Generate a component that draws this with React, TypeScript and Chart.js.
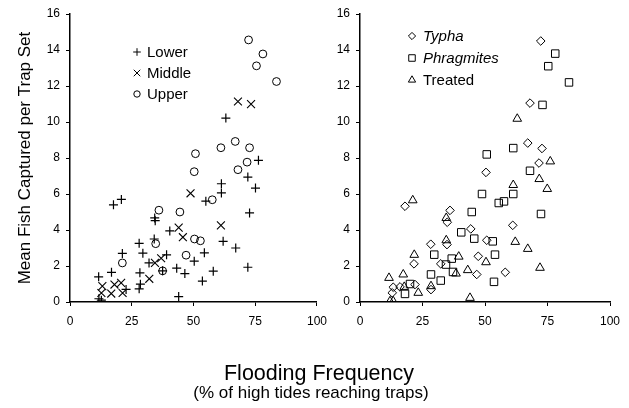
import React, { useEffect, useRef } from 'react';
import { Chart, registerables } from 'chart.js';

Chart.register(...registerables);

const FONT = "'Liberation Sans', Arial, Helvetica, sans-serif";

// ---- Data (x = flooding frequency %, y = mean fish captured per trap set) ----
const lower: [number, number][] = [
  [11.6, 1.4], [11.7, 0.18], [12.7, 0.1], [16.8, 1.65], [17.6, 5.4], [20.8, 5.7],
  [21.2, 2.7], [22.7, 0.7], [28, 3.26], [28.3, 1.62], [28.5, 0.99], [28, 0.73],
  [29.5, 2.71], [32, 2.17], [34.1, 3.5], [34.3, 4.67], [34.5, 4.52], [37.5, 1.73],
  [39.1, 2.62], [40.4, 3.95], [43.2, 1.88], [44, 0.3], [46.5, 1.58], [50.3, 2.27],
  [53.6, 1.16], [54.4, 2.73], [55, 5.6], [58, 1.71], [61.3, 6.57], [61.3, 6.06],
  [62, 3.37], [63.1, 10.22], [67.1, 3.0], [72, 6.94], [72, 1.93], [72.7, 4.95],
  [75.1, 6.33], [76.3, 7.87],
];
const middle: [number, number][] = [
  [12.7, 0.5], [13.1, 0.88], [16.7, 0.47], [18, 0.97], [20.7, 1.06], [21.3, 0.5],
  [32.1, 1.29], [34.4, 2.17], [36.9, 2.43], [44, 4.13], [45.7, 3.6], [48.8, 6.04],
  [61.1, 4.26], [68, 11.14], [73.3, 10.99],
];
const upper: [number, number][] = [
  [21.2, 2.17], [34.7, 3.24], [36, 5.1], [37.5, 1.73], [44.5, 5.0], [47, 2.6],
  [50.3, 7.24], [50.8, 8.24], [50.4, 3.5], [52.8, 3.4], [57.6, 5.68], [61.1, 8.57],
  [66.9, 8.92], [68, 7.35], [71.7, 7.77], [72.7, 8.57], [72.3, 14.56], [75.5, 13.12],
  [78.1, 13.78], [83.6, 12.25],
];
const typha: [number, number][] = [
  [12.9, 0.51], [13.3, 0.82], [16, 0.84], [18, 5.32], [22, 0.97], [21.6, 2.12],
  [28.3, 3.21], [28.4, 0.69], [32.3, 2.12], [34.8, 3.19], [34.9, 4.43], [36, 5.09],
  [44.3, 4.06], [46.7, 1.53], [47.3, 2.54], [50.4, 7.2], [50.7, 3.43], [58.1, 1.65],
  [61.1, 4.26], [67.1, 8.83], [68, 11.05], [71.6, 7.72], [72.3, 14.5], [72.8, 8.53],
];
const phragmites: [number, number][] = [
  [18, 0.45], [20, 1.0], [28.4, 1.53], [29.7, 2.63], [32.3, 1.19], [34.4, 2.08],
  [36.7, 2.41], [37.2, 1.67], [40.5, 3.87], [44.7, 5.0], [45.7, 3.52], [48.8, 6.0],
  [50.7, 8.2], [53.1, 3.37], [53.6, 1.12], [54, 2.63], [55.5, 5.5], [57.6, 5.59],
  [61.3, 8.55], [61.3, 6.0], [68, 7.29], [72.4, 4.89], [73, 10.95], [75.3, 13.1],
  [78.1, 13.8], [83.6, 12.2],
];
const treated: [number, number][] = [
  [11.6, 1.34], [12, 0.04], [13.3, 0.04], [17.3, 1.53], [17.7, 0.84], [21.1, 5.65],
  [21.7, 2.62], [23.3, 0.51], [28.4, 0.88], [34.5, 4.67], [34.5, 3.43], [38.4, 1.58],
  [39.5, 2.52], [43.1, 1.77], [44, 0.23], [50.4, 2.21], [61.3, 6.5], [62.1, 3.34],
  [62.9, 10.18], [67.1, 2.95], [71.7, 6.83], [72, 1.9], [74.9, 6.28], [76.1, 7.81],
];

const xMin = 0, xMax = 100, xStep = 25;
const yMin = 0, yMax = 16, yStep = 2;

const yTitle = 'Mean Fish Captured per Trap Set';
const xTitle = 'Flooding Frequency';
const xSubtitle = '(% of high tides reaching traps)';

const leftLegend = [
  { style: 'cross', label: 'Lower', italic: false, r: 3.8 },
  { style: 'crossRot', label: 'Middle', italic: false, r: 4.6 },
  { style: 'circle', label: 'Upper', italic: false, r: 3.2 },
];
const rightLegend = [
  { style: 'rectRot', label: 'Typha', italic: true, r: 3.6 },
  { style: 'rect', label: 'Phragmites', italic: true, r: 4.6 },
  { style: 'triangle', label: 'Treated', italic: false, r: 4.2 },
];

function toPts(a: [number, number][]) {
  return a.map(([x, y]) => ({ x, y }));
}

function drawMarker(ctx: CanvasRenderingContext2D, style: string, x: number, y: number, r: number) {
  ctx.beginPath();
  if (style === 'cross') {
    ctx.moveTo(x - r, y); ctx.lineTo(x + r, y);
    ctx.moveTo(x, y - r); ctx.lineTo(x, y + r);
  } else if (style === 'crossRot') {
    const d = r * Math.SQRT1_2;
    ctx.moveTo(x - d, y - d); ctx.lineTo(x + d, y + d);
    ctx.moveTo(x - d, y + d); ctx.lineTo(x + d, y - d);
  } else if (style === 'circle') {
    ctx.arc(x, y, r, 0, Math.PI * 2);
  } else if (style === 'rectRot') {
    ctx.moveTo(x, y - r); ctx.lineTo(x + r, y); ctx.lineTo(x, y + r); ctx.lineTo(x - r, y); ctx.closePath();
  } else if (style === 'rect') {
    const s = r * Math.SQRT1_2;
    ctx.rect(x - s, y - s, 2 * s, 2 * s);
  } else if (style === 'triangle') {
    const a = (2 * Math.PI) / 3;
    ctx.moveTo(x, y - r);
    ctx.lineTo(x + Math.sin(a) * r, y - Math.cos(a) * r);
    ctx.lineTo(x + Math.sin(2 * a) * r, y - Math.cos(2 * a) * r);
    ctx.closePath();
  }
  ctx.stroke();
}

function legendPlugin(items: typeof leftLegend, x: number, y: number, lineH: number, gap: number) {
  return {
    id: 'panelLegend',
    afterDraw(chart: any) {
      const ctx: CanvasRenderingContext2D = chart.ctx;
      ctx.save();
      ctx.strokeStyle = '#000';
      ctx.fillStyle = '#000';
      ctx.lineWidth = 1;
      ctx.textBaseline = 'middle';
      ctx.textAlign = 'left';
      items.forEach((it, i) => {
        const yy = y + i * lineH;
        drawMarker(ctx, it.style, x, yy, it.r);
        ctx.font = `${it.italic ? 'italic ' : ''}15px ${FONT}`;
        ctx.fillText(it.label, x + gap, yy + 0.5);
      });
      ctx.restore();
    },
  };
}

function makeScales(yWidth: number, showTitle: boolean) {
  const grid = { display: true, drawOnChartArea: false, drawTicks: true, tickLength: 4, color: '#000', tickWidth: 1 };
  const border = { display: true, color: '#000', width: 1.5 };
  return {
    x: {
      type: 'linear',
      min: xMin, max: xMax,
      ticks: { stepSize: xStep, color: '#000', font: { family: FONT, size: 12 }, padding: 8, maxRotation: 0 },
      grid, border,
      afterFit: (s: any) => { s.height = 106; },
    },
    y: {
      type: 'linear',
      min: yMin, max: yMax,
      ticks: { stepSize: yStep, color: '#000', font: { family: FONT, size: 12 }, padding: 6 },
      grid, border,
      title: {
        display: showTitle,
        text: yTitle,
        color: '#000',
        font: { family: FONT, size: 17 },
        padding: { top: 15, bottom: 0 },
      },
      afterFit: (s: any) => { s.width = yWidth; },
    },
  };
}

function ds(label: string, data: [number, number][], style: string, r: number, bw = 1) {
  return {
    label,
    data: toPts(data),
    pointStyle: style,
    pointRadius: r,
    pointHoverRadius: r,
    borderColor: '#000',
    backgroundColor: 'rgba(0,0,0,0)',
    pointBorderWidth: bw,
    borderWidth: bw,
    showLine: false,
  };
}

export default function App() {
  const leftRef = useRef<HTMLCanvasElement>(null);
  const rightRef = useRef<HTMLCanvasElement>(null);

  useEffect(() => {
    const common = {
      responsive: false,
      animation: false,
      events: [],
      plugins: { legend: { display: false }, tooltip: { enabled: false } },
    };
    const c1 = new Chart(leftRef.current!, {
      type: 'scatter',
      data: {
        datasets: [
          ds('Lower', lower, 'cross', 4.5, 1.2),
          ds('Middle', middle, 'crossRot', 5.6, 1.1),
          ds('Upper', upper, 'circle', 3.9, 1),
        ],
      },
      options: {
        ...common,
        layout: { padding: { left: 0, right: 15, top: 14, bottom: 0 } },
        scales: makeScales(70, true),
      } as any,
      plugins: [legendPlugin(leftLegend, 137, 52, 21, 10)],
    } as any);
    const c2 = new Chart(rightRef.current!, {
      type: 'scatter',
      data: {
        datasets: [
          ds('Typha', typha, 'rectRot', 4.3, 1),
          ds('Phragmites', phragmites, 'rect', 5.3, 1),
          ds('Treated', treated, 'triangle', 5, 1),
        ],
      },
      options: {
        ...common,
        layout: { padding: { left: 0, right: 19, top: 14, bottom: 0 } },
        scales: makeScales(25, false),
      } as any,
      plugins: [legendPlugin(rightLegend, 77, 36, 22, 11)],
    } as any);
    return () => { c1.destroy(); c2.destroy(); };
  }, []);

  return (
    <div style={{ position: 'absolute', left: 0, top: 0, width: 629, height: 408, background: '#fff', fontFamily: FONT, color: '#000' }}>
      <canvas ref={leftRef} width={335} height={408} style={{ position: 'absolute', left: 0, top: 0, width: 335, height: 408 }} />
      <canvas ref={rightRef} width={294} height={408} style={{ position: 'absolute', left: 335, top: 0, width: 294, height: 408 }} />
      <div style={{ position: 'absolute', left: 119, width: 400, top: 361, fontSize: 21.5, lineHeight: '25px', textAlign: 'center', whiteSpace: 'nowrap' }}>{xTitle}</div>
      <div style={{ position: 'absolute', left: 111, width: 400, top: 383, fontSize: 17, lineHeight: '20px', textAlign: 'center', whiteSpace: 'nowrap' }}>{xSubtitle}</div>
    </div>
  );
}
